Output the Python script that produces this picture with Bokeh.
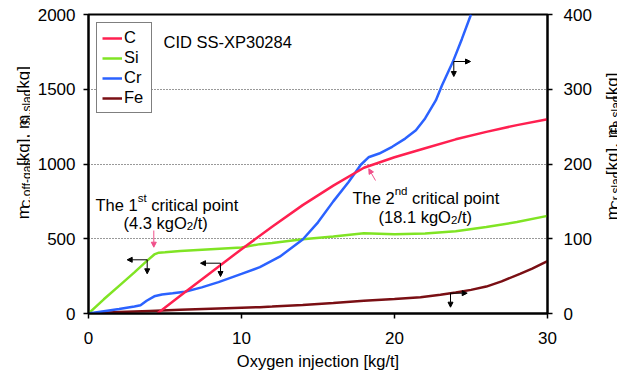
import numpy as np
from bokeh.plotting import figure
from bokeh.layouts import row
from bokeh.models import (Range1d, LinearAxis, Label, Arrow, NormalHead, Legend,
                          LegendItem, FixedTicker)
from bokeh.embed import file_html
from bokeh.resources import INLINE

# ---------------- data ----------------
x_ticks = [0, 10, 20, 30]
left_ticks = [0, 500, 1000, 1500, 2000]
right_ticks = [0, 100, 200, 300, 400]

c_x = [4.5, 6, 8, 10, 12, 14, 16, 18, 20, 22, 24, 26, 28, 30]
c_mass = [0, 118, 275, 430, 580, 725, 855, 975, 1045, 1105, 1165, 1215, 1260, 1300]

si_x = [0, 1, 2, 3, 3.8, 4.3, 4.6, 5, 6, 8, 10, 11.2, 12, 14, 16, 18, 20, 22, 24, 26, 28, 30]
si_mass = [0, 95, 185, 275, 350, 395, 407, 410, 418, 430, 442, 464, 472, 497, 515, 536, 530,
           535, 550, 578, 612, 653]

cr_x = [0, 1, 2, 3, 3.4, 3.8, 4.3, 4.8, 5.5, 6.3, 7.4, 8.5, 10, 11.2, 12.5, 14, 15, 16, 17,
        17.8, 18.3, 19, 19.85, 20.7, 21.4, 22, 22.7, 23.1, 23.8, 24.4, 25]
cr_mass = [0, 3, 6, 9.5, 11, 17, 23, 25.5, 27, 29, 35, 42, 53, 62, 76, 99, 122, 150, 176,
           199, 209, 214, 223, 234, 245, 261, 285, 305, 336, 367, 400]

fe_x = [0, 2, 4, 6, 8, 10, 11.2, 12, 14, 16, 18, 20, 21.7, 23, 24, 25, 26, 27, 28.2, 29, 30]
fe_mass = [0, 2, 3.5, 5, 6.5, 7.8, 8.4, 9.2, 11.5, 14, 17, 19.5, 21.8, 25, 28, 31.6, 36, 43,
           53, 60, 70]

FONT = "Liberation Sans"
C_COL, SI_COL, CR_COL, FE_COL = "#ff2050", "#80e424", "#2b62ff", "#7a0f14"

# page geometry (pixels) used only to place annotations
LW, RX = 30, 594          # width of left title strip, left edge of right title strip
FL, FR, FT, FB = 88, 547, 14, 313   # plot frame in page pixels


def X(px):
    return (px - FL) / (FR - FL) * 30


def Y(py):
    return (FB - py) / (FB - FT) * 2000


p = figure(frame_width=FR - FL, frame_height=FB - FT,
           x_range=Range1d(0, 30), y_range=Range1d(0, 2000),
           output_backend="svg", toolbar_location=None,
           min_border_left=FL - LW, min_border_right=RX - FR,
           min_border_top=FT, min_border_bottom=378 - FB)
p.background_fill_color = "white"
p.border_fill_color = "white"
p.outline_line_color = "black"
p.outline_line_width = 2
p.outline_line_alpha = 1

p.extra_y_ranges = {"r": Range1d(0, 400)}
raxis = LinearAxis(y_range_name="r", ticker=FixedTicker(ticks=right_ticks))
p.add_layout(raxis, "right")

laxis = p.left[0]
laxis.ticker = FixedTicker(ticks=left_ticks)
xaxis = p.below[0]
xaxis.ticker = FixedTicker(ticks=x_ticks)

for ax in (laxis, raxis, xaxis):
    ax.axis_line_width = 2
    ax.axis_line_color = "black"
    ax.major_tick_line_color = "black"
    ax.major_tick_line_width = 1.5
    ax.major_tick_in = 0
    ax.major_tick_out = 5
    ax.minor_tick_line_color = None
    ax.major_label_text_font = FONT
    ax.major_label_text_font_size = "17px"
    ax.major_label_text_color = "black"

laxis.major_label_standoff = 8
raxis.major_label_standoff = 11
xaxis.major_label_standoff = 13
xaxis.axis_label = "Oxygen injection [kg/t]"
xaxis.axis_label_text_font = FONT
xaxis.axis_label_text_font_size = "16.5px"
xaxis.axis_label_text_font_style = "normal"
xaxis.axis_label_text_color = "black"
xaxis.axis_label_standoff = 5

p.xgrid.visible = False
p.ygrid.ticker = FixedTicker(ticks=[500, 1000, 1500])
p.ygrid.grid_line_color = "#333333"
p.ygrid.grid_line_dash = "1 2"
p.ygrid.grid_line_width = 1

r_fe = p.line(fe_x, fe_mass, color=FE_COL, line_width=2.5, y_range_name="r")
r_si = p.line(si_x, si_mass, color=SI_COL, line_width=2.5)
r_cr = p.line(cr_x, cr_mass, color=CR_COL, line_width=2.5, y_range_name="r")
r_c = p.line(c_x, c_mass, color=C_COL, line_width=2.5)

legend = Legend(items=[LegendItem(label="C", renderers=[r_c]),
                       LegendItem(label="Si", renderers=[r_si]),
                       LegendItem(label="Cr", renderers=[r_cr]),
                       LegendItem(label="Fe", renderers=[r_fe])],
                location="top_left", margin=8, padding=5, spacing=1,
                label_height=16, glyph_height=16, glyph_width=20, label_standoff=2,
                label_width=22,
                label_text_font=FONT, label_text_font_size="16.5px",
                label_text_color="black",
                border_line_color="black", border_line_width=1.5,
                background_fill_color="white", background_fill_alpha=1)
p.add_layout(legend)


def txt(px, py, s, size, angle=0.0, fig=None, xs=None):
    if fig is None:
        fig, x, y = p, X(px), Y(py)
    else:
        x, y = px - xs, py
    fig.add_layout(Label(x=x, y=y, text=s, text_font=FONT,
                         text_font_size=size, text_color="black",
                         text_align="left", text_baseline="alphabetic",
                         angle=angle))


# title-like text
txt(163, 41, "CID SS-XP30284", "16.5px")

# 1st critical point
txt(95, 204, "The 1", "16.5px")
txt(137.2, 197.5, "st", "11.5px")
txt(150.7, 204, "critical point", "16.5px")
txt(123, 222, "(4.3 kgO", "16.5px")
txt(186.3, 225.5, "2", "11.5px")
txt(192.7, 222, "/t)", "16.5px")

# 2nd critical point
txt(352, 197, "The 2", "16.5px")
txt(394.2, 190.5, "nd", "11.5px")
txt(411.6, 197, "critical point", "16.5px")
txt(378, 216, "(18.1 kgO", "16.5px")
txt(450.5, 219.5, "2", "11.5px")
txt(456.9, 216, "/t)", "16.5px")


def head(col="black", size=5):
    return NormalHead(size=size, fill_color=col, line_color=col, line_width=1)


def arr(px0, py0, px1, py1, col="black", size=5):
    p.add_layout(Arrow(x_start=X(px0), y_start=Y(py0), x_end=X(px1), y_end=Y(py1),
                       end=head(col, size), line_color=col, line_width=1))


# axis-indicator arrows
for (cx, cy, hx, vy) in [(146.7, 259.3, 126.7, 273.3), (220, 262.7, 200, 276.0)]:
    arr(cx, cy, hx, cy)
    arr(cx, cy, cx, vy)
for (cx, cy, hx, vy) in [(453.3, 61, 470, 76), (450, 292.7, 466.7, 306.7)]:
    arr(cx, cy, hx, cy)
    arr(cx, cy, cx, vy)

# critical-point pointers
arr(153.3, 230, 153.3, 246.7, "#f0508a", 5)
arr(375, 180, 368.3, 168.3, "#f0508a", 5)


# ---------------- side strips holding the rotated axis titles ----------------
def strip(w):
    f = figure(width=w, height=378, x_range=Range1d(0, w), y_range=Range1d(378, 0),
               output_backend="svg", toolbar_location=None,
               x_axis_location=None, y_axis_location=None,
               min_border=0, min_border_left=0, min_border_right=0,
               min_border_top=0, min_border_bottom=0)
    f.grid.visible = False
    f.outline_line_color = None
    f.background_fill_color = "white"
    f.border_fill_color = "white"
    return f


lf = strip(LW)
rf = strip(617 - RX)
A = np.pi / 2

# left axis title (rotated, with subscripts)
txt(23, 259, "m", "17px", A, lf, 0)
txt(26, 244.8, "C,off-gas", "12px", A, lf, 0)
txt(23, 191.4, "[kg], m", "17px", A, lf, 0)
txt(26, 140.4, "Si,slag", "12px", A, lf, 0)
txt(23, 99.7, "[kg]", "17px", A, lf, 0)

# right axis title (rotated, with subscripts)
txt(612, 260, "m", "17px", A, rf, RX)
txt(615, 245.8, "Cr,slag", "12px", A, rf, RX)
txt(612, 203.1, "[kg], m", "17px", A, rf, RX)
txt(615, 152.1, "Fe,slag", "12px", A, rf, RX)
txt(612, 108.1, "[kg]", "17px", A, rf, RX)

layout = row(lf, p, rf)
open("out.html", "w").write(file_html(layout, INLINE))
